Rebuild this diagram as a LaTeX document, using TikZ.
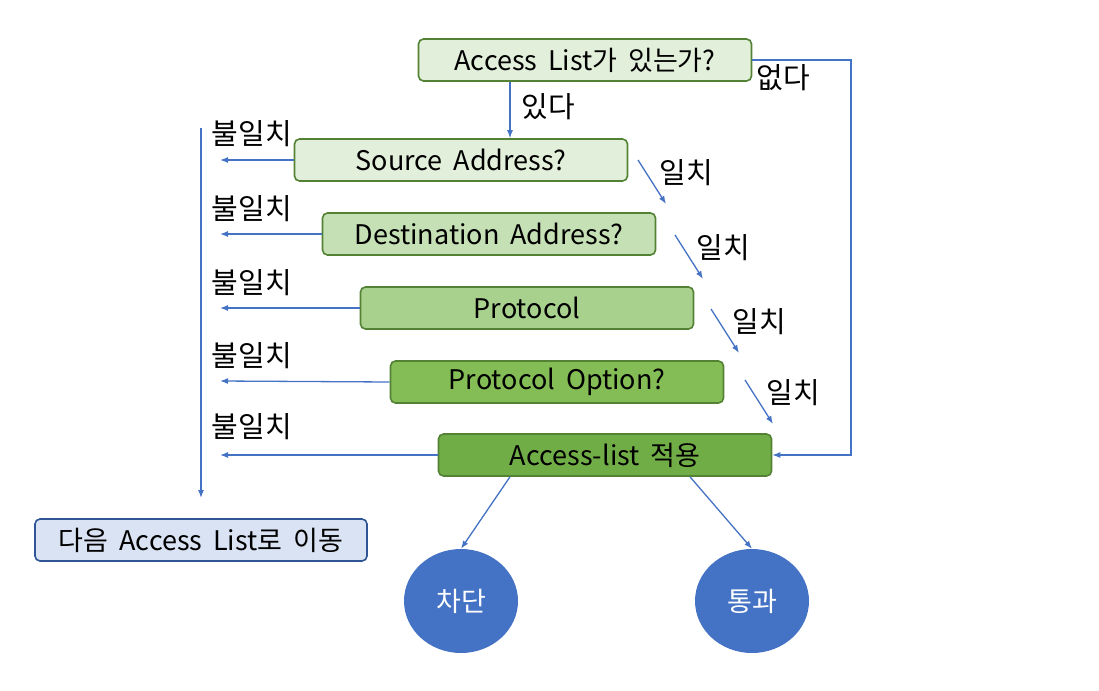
\documentclass[tikz,border=0pt]{standalone}
\usepackage{fontspec}
\setmainfont[WordSpace=1.8]{Noto Sans CJK KR}
\usetikzlibrary{arrows.meta,shapes.geometric}
\definecolor{ArrowBlue}{HTML}{4472C4}
\definecolor{BoxLine}{HTML}{548235}

\begin{document}
\begin{tikzpicture}[x=1pt,y=-1pt,font=\fontsize{27}{32}\selectfont]
\useasboundingbox (0,0) rectangle (1099,690);
\tikzset{Box/.style={draw=BoxLine,line width=1.6pt,rounded corners=5pt,
  minimum width=333pt,minimum height=42pt,inner sep=0pt}}
\tikzset{Arr/.style={draw=ArrowBlue,line width=1.3pt,-{Latex[length=8pt,width=6pt]}}}
\tikzset{Lbl/.style={inner sep=0pt,font=\fontsize{29}{34}\selectfont}}
\node[Box,fill={rgb,255:red,226;green,239;blue,218}] (Q) at (585,60) {Access List가 있는가?};
\node[Box,fill={rgb,255:red,226;green,239;blue,218}] (S) at (461,160) {Source Address?};
\node[Box,fill={rgb,255:red,197;green,224;blue,180}] (D) at (489,234) {Destination Address?};
\node[Box,fill={rgb,255:red,169;green,209;blue,142}] (P) at (527,308) {Protocol};
\node[Box,fill={rgb,255:red,132;green,188;blue,86}] (O) at (557,382) {Protocol Option?};
\node[Box,fill={rgb,255:red,112;green,173;blue,71}] (A) at (605,455) {Access-list 적용};
\node[Box,draw={rgb,255:red,47;green,85;blue,151},fill={rgb,255:red,218;green,227;blue,243},
  minimum width=332pt] (N) at (201,540) {다음 Access List로 이동};
\node[ellipse,fill=ArrowBlue,text=white,minimum width=114pt,minimum height=104pt] (Block) at (461,601) {차단};
\node[ellipse,fill=ArrowBlue,text=white,minimum width=114pt,minimum height=104pt] (Pass) at (752,601) {통과};
% yes / no
\draw[Arr] (Q.south -| 510,0) -- (S.north -| 510,0);
\node[Lbl] at (548,107) {있다};
\draw[Arr] (Q.east) -- (851,60) |- (A.east);
\node[Lbl] at (783,78) {없다};
% mismatch
\coordinate (Top) at (201,128);
\coordinate (Bot) at (201,498);
\draw[Arr] (Top) -- (Bot);
\foreach \b/\y/\ly in {S/160/134,D/234/209,P/308/283,O/381/356,A/455/427}{
  \draw[Arr] (\b.west) -- (220,\y);
  \node[Lbl] at (252,\ly) {불일치};
}
% match
\foreach \n/\x/\y in {1/638/160,2/675/235,3/711/309,4/745/380}{
  \coordinate (m\n) at (\x,\y);
  \coordinate (e\n) at (\x+28,\y+44);
  \draw[Arr] (m\n) -- (e\n);
  \node[Lbl] at (\x+48,\y+13) {일치};
}
\draw[Arr] (A.south -| 510,0) -- (Block.north);
\draw[Arr] (A.south -| 690,0) -- (Pass.north);
\end{tikzpicture}
\end{document}
